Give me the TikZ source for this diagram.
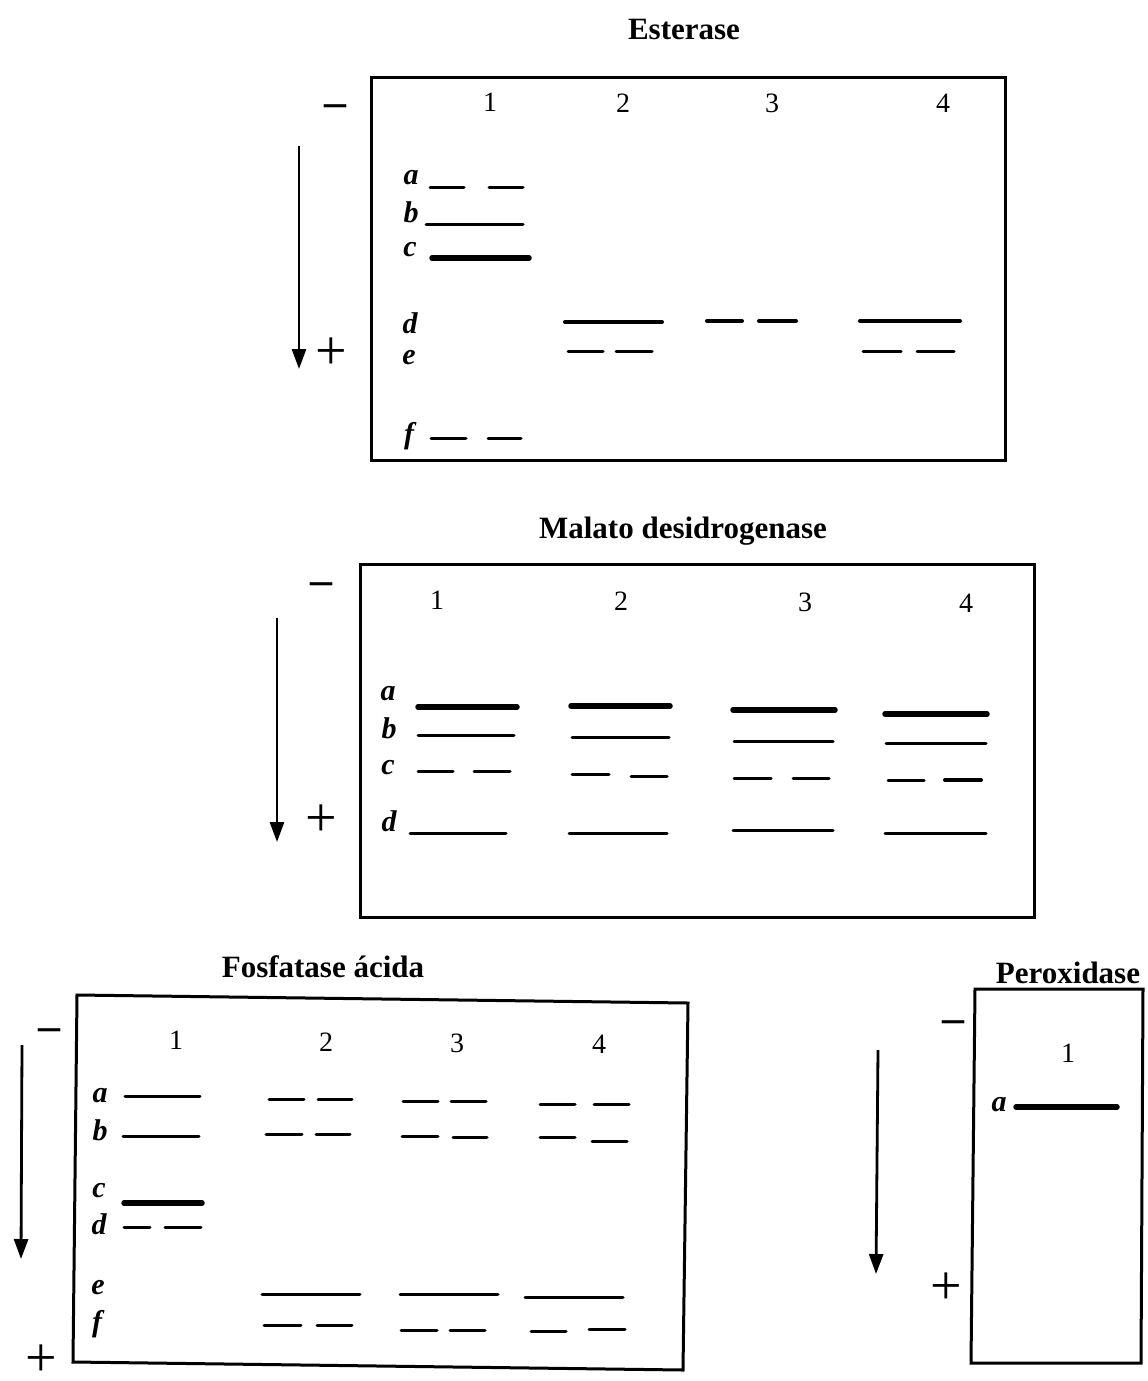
\documentclass[tikz,border=0pt]{standalone}
\usepackage{fontspec}
\setmainfont{Liberation Serif}
\usetikzlibrary{arrows.meta}
\begin{document}
\begin{tikzpicture}[x=1pt,y=-1pt,
  title/.style={font=\fontsize{31}{31}\selectfont\bfseries, inner sep=0pt, anchor=base},
  lanenum/.style={font=\fontsize{28}{28}\selectfont, inner sep=0pt},
  rowlab/.style={font=\fontsize{30}{30}\selectfont\bfseries\itshape, inner sep=0pt},
  minuslab/.style={font=\fontsize{44}{44}\selectfont\bfseries, inner sep=0pt},
  pluslab/.style={font=\fontsize{56}{56}\selectfont, inner sep=0pt},
  gel/.style={line width=3pt, line join=miter},
  band/.style={line width=3pt, line cap=round},
  bandm/.style={line width=4pt, line cap=round},
  bandk/.style={line width=5.5pt, line cap=round},
  flow/.style={line width=2.8pt, -{Triangle[length=20pt,width=14pt]}}]
\useasboundingbox (0,0) rectangle (1148,1381);

% ================= Esterase =================
\node[title] (t1) at (684,40) {Esterase};
\draw[gel] (371,77) rectangle (1005,460);
\node[minuslab] (m1) at (335,111) {–};
\node[pluslab] (p1) at (331,354) {+};
\coordinate (a1s) at (299,146);
\coordinate (a1e) at (299,369);
\draw[flow] (a1s) -- (a1e);
\node[lanenum] (e1) at (490,102) {1};
\node[lanenum] (e2) at (623,103) {2};
\node[lanenum] (e3) at (772,103) {3};
\node[lanenum] (e4) at (943,103) {4};
\node[rowlab] (ea) at (411,178) {a};
\node[rowlab] (eb) at (411,212) {b};
\node[rowlab] (ec) at (410,250) {c};
\node[rowlab] (ed) at (410,323) {d};
\node[rowlab] (ee) at (409,358) {e};
\node[rowlab] (ef) at (409,436) {f};
% lane 1
\draw[band] (430,187) -- (464,187);
\draw[band] (489,187) -- (523,187);
\draw[band] (426,224) -- (523,224);
\draw[bandk] (432,258) -- (529,258);
\draw[band] (431,438) -- (466,438);
\draw[band] (488,438) -- (521,438);
% lane 2
\draw[bandm] (565,322) -- (662,322);
\draw[band] (568,351) -- (603,351);
\draw[band] (616,351) -- (652,351);
% lane 3
\draw[bandm] (707,321) -- (742,321);
\draw[bandm] (759,321) -- (796,321);
% lane 4
\draw[bandm] (860,321) -- (960,321);
\draw[band] (863,351) -- (901,351);
\draw[band] (917,351) -- (954,351);

% ================= Malato desidrogenase =================
\node[title] (t2) at (683,538) {Malato desidrogenase};
\draw[gel] (360,564) rectangle (1034,917);
\node[minuslab] (m2) at (321,589) {–};
\node[pluslab] (p2) at (321,821) {+};
\coordinate (a2s) at (277,618);
\coordinate (a2e) at (277,842);
\draw[flow] (a2s) -- (a2e);
\node[lanenum] (n1) at (437,600) {1};
\node[lanenum] (n2) at (621,601) {2};
\node[lanenum] (n3) at (805,602) {3};
\node[lanenum] (n4) at (966,603) {4};
\node[rowlab] (ma) at (388,694) {a};
\node[rowlab] (mb) at (389,728) {b};
\node[rowlab] (mc) at (388,768) {c};
\node[rowlab] (md) at (389,821) {d};
% lane 1
\draw[bandk] (418,707) -- (517,707);
\draw[band] (418,735) -- (514,735);
\draw[band] (418,771) -- (453,771);
\draw[band] (474,771) -- (510,771);
\draw[band] (410,833) -- (506,833);
% lane 2
\draw[bandk] (571,706) -- (670,706);
\draw[band] (572,737) -- (669,737);
\draw[band] (572,774) -- (609,774);
\draw[band] (631,776) -- (667,776);
\draw[band] (569,833) -- (667,833);
% lane 3
\draw[bandk] (733,710) -- (835,710);
\draw[band] (734,741) -- (833,741);
\draw[band] (734,778) -- (771,778);
\draw[band] (793,778) -- (829,778);
\draw[band] (733,830) -- (833,830);
% lane 4
\draw[bandk] (885,714) -- (987,714);
\draw[band] (886,743) -- (986,743);
\draw[band] (888,780) -- (924,780);
\draw[bandm] (945,780) -- (981,780);
\draw[band] (885,833) -- (986,833);

% ================= Fosfatase acida =================
\node[title] (t3) at (323,977) {Fosfatase ácida};
\draw[gel] (77,995) -- (688,1003) -- (683,1370) -- (73,1362) -- cycle;
\node[minuslab] (m3) at (49,1035) {–};
\node[pluslab] (p3) at (41,1361) {+};
\coordinate (a3s) at (22,1045);
\coordinate (a3e) at (21,1259);
\draw[flow] (a3s) -- (a3e);
\node[lanenum] (f1) at (176,1040) {1};
\node[lanenum] (f2) at (326,1042) {2};
\node[lanenum] (f3) at (457,1043) {3};
\node[lanenum] (f4) at (599,1044) {4};
\node[rowlab] (fa) at (100,1096) {a};
\node[rowlab] (fb) at (100,1130) {b};
\node[rowlab] (fc) at (99,1191) {c};
\node[rowlab] (fd) at (99,1224) {d};
\node[rowlab] (fe) at (98,1288) {e};
\node[rowlab] (ff) at (97,1324) {f};
% lane 1
\draw[band] (125,1096) -- (200,1096);
\draw[band] (123,1136) -- (199,1136);
\draw[bandk] (124,1203) -- (202,1203);
\draw[band] (124,1227) -- (150,1227);
\draw[band] (165,1227) -- (201,1227);
% lane 2
\draw[band] (269,1099) -- (304,1099);
\draw[band] (318,1099) -- (352,1099);
\draw[band] (266,1134) -- (302,1134);
\draw[band] (316,1134) -- (350,1134);
\draw[band] (262,1294) -- (360,1294);
\draw[band] (264,1325) -- (301,1325);
\draw[band] (317,1325) -- (352,1325);
% lane 3
\draw[band] (403,1101) -- (438,1101);
\draw[band] (451,1101) -- (486,1101);
\draw[band] (402,1136) -- (438,1136);
\draw[band] (453,1137) -- (487,1137);
\draw[band] (400,1294) -- (498,1294);
\draw[band] (401,1330) -- (437,1330);
\draw[band] (450,1330) -- (485,1330);
% lane 4
\draw[band] (540,1104) -- (575,1104);
\draw[band] (594,1104) -- (629,1104);
\draw[band] (540,1137) -- (575,1137);
\draw[band] (592,1141) -- (627,1141);
\draw[band] (525,1297) -- (623,1297);
\draw[band] (531,1331) -- (566,1331);
\draw[band] (589,1329) -- (625,1329);

% ================= Peroxidase =================
\node[title] (t4) at (1068,983) {Peroxidase};
\draw[gel] (975,989) -- (1143,989) -- (1141,1363) -- (971,1363) -- cycle;
\node[minuslab] (m4) at (953,1027) {–};
\node[pluslab] (p4) at (946,1289) {+};
\coordinate (a4s) at (878,1050);
\coordinate (a4e) at (876,1274);
\draw[flow] (a4s) -- (a4e);
\node[lanenum] (r1) at (1068,1053) {1};
\node[rowlab] (ra) at (999,1105) {a};
\draw[bandk] (1016,1107) -- (1117,1107);
\end{tikzpicture}
\end{document}
